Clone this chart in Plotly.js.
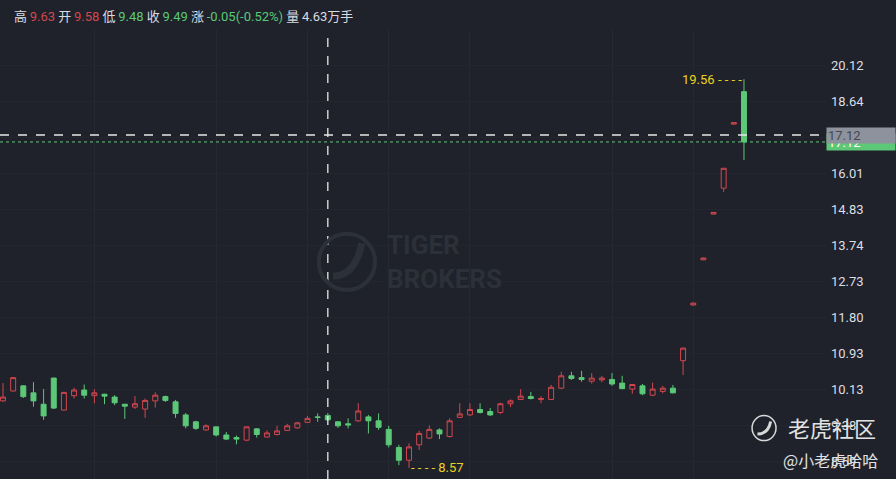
<!DOCTYPE html>
<html><head><meta charset="utf-8">
<script src="https://cdn.plot.ly/plotly-3.0.1.min.js"></script>
<style>html,body{margin:0;padding:0;background:#1f222a;}#chart{width:896px;height:479px;}</style>
</head><body><div id="chart"></div>
<script>
// ---- data ----
const openP = [9.88,10.09,10.20,10.05,9.81,10.37,9.69,9.99,10.11,9.99,
  10.02,9.96,9.81,9.75,9.71,9.88,9.97,9.86,9.59,9.45,
  9.29,9.35,9.19,9.14,9.09,9.31,9.15,9.20,9.28,9.33,
  9.44,9.55,9.58,9.45,9.41,9.47,9.55,9.47,9.30,8.95,
  8.71,9.00,9.13,9.29,9.16,9.54,9.59,9.70,9.66,9.64,
  9.82,9.91,9.97,9.91,9.91,10.15,10.42,10.38,10.30,10.33,
  10.34,10.26,10.13,10.20,10.00,10.08,10.15,10.76,12.11,13.33,
  14.69,15.52,17.78,19.05];
const highP = [10.26,10.39,10.21,10.28,10.13,10.38,10.07,10.16,10.23,10.13,
  10.03,10.00,9.81,9.98,9.93,10.06,9.99,9.90,9.63,9.47,
  9.40,9.35,9.25,9.18,9.36,9.32,9.28,9.37,9.41,9.45,
  9.57,9.62,9.63,9.46,9.52,9.83,9.59,9.62,9.37,9.00,
  9.03,9.27,9.38,9.32,9.52,9.83,9.83,9.83,9.73,9.84,
  9.91,10.13,10.07,9.98,10.22,10.51,10.51,10.53,10.48,10.42,
  10.48,10.42,10.24,10.24,10.27,10.20,10.22,11.07,12.17,13.39,
  14.75,16.19,17.85,19.56];
const lowP = [9.86,10.08,9.94,9.76,9.49,9.71,9.68,9.93,9.93,9.83,
  9.81,9.79,9.51,9.71,9.53,9.74,9.86,9.53,9.32,9.29,
  9.27,9.16,9.09,9.01,9.07,9.14,9.14,9.18,9.27,9.31,
  9.44,9.45,9.48,9.33,9.32,9.45,9.22,9.29,8.95,8.62,
  8.57,8.90,9.11,9.11,9.14,9.54,9.57,9.62,9.57,9.61,
  9.75,9.90,9.91,9.83,9.90,10.13,10.33,10.29,10.25,10.28,
  10.20,10.13,10.03,10.00,9.98,10.04,10.04,10.44,12.10,13.32,
  14.68,15.40,17.77,16.48];
const closeP = [9.96,10.38,9.97,9.88,9.57,9.73,10.06,10.11,10.00,10.05,
  9.98,9.84,9.77,9.82,9.89,10.00,9.89,9.62,9.37,9.32,
  9.37,9.19,9.11,9.11,9.35,9.20,9.23,9.27,9.37,9.43,
  9.52,9.54,9.49,9.37,9.39,9.67,9.47,9.34,9.00,8.71,
  8.96,9.22,9.30,9.21,9.47,9.61,9.70,9.64,9.59,9.82,
  9.88,9.98,9.93,9.93,10.17,10.42,10.36,10.34,10.37,10.37,
  10.24,10.14,10.23,10.03,10.13,10.15,10.05,11.05,12.16,13.38,
  14.74,16.19,17.84,17.12];
const yTickVals = [8.69,9.38,10.13,10.93,11.80,12.73,13.74,14.83,16.01,17.28,18.64,20.12];
const yTickText = ['8.69','9.38','10.13','10.93','11.80','12.73','13.74','14.83','16.01','17.28','18.64','20.12'];
const crossIndex = 32;        // candle under crosshair
const crossPrice = 17.375;    // crosshair horizontal level
const crossLabel = '17.12';
const volumeText = '4.63万手';

// ---- derived ----
const xs = openP.map((_, i) => i);
const n = xs.length;
const hiIdx = highP.indexOf(Math.max(...highP));
const loIdx = lowP.indexOf(Math.min(...lowP));
const last = closeP[n - 1];
const RED = '#d2474f', GREEN = '#5cc878', YEL = '#ecd21e', BG = '#1f222a';
const c = crossIndex;
const chg = closeP[c] - closeP[c - 1];
const pct = chg / closeP[c - 1] * 100;
const col = v => v >= closeP[c - 1] ? RED : GREEN;
const TS = '\u2009';
const lab = t => `<span style="color:#d9dbe0">${t}</span>${TS}`;
const header = lab('高') + `<span style="color:${col(highP[c])}">${highP[c].toFixed(2)}</span> ` +
  lab('开') + `<span style="color:${col(openP[c])}">${openP[c].toFixed(2)}</span> ` +
  lab('低') + `<span style="color:${col(lowP[c])}">${lowP[c].toFixed(2)}</span> ` +
  lab('收') + `<span style="color:${col(closeP[c])}">${closeP[c].toFixed(2)}</span> ` +
  lab('涨') + `<span style="color:${chg >= 0 ? RED : GREEN}">${chg.toFixed(2)}(${pct.toFixed(2)}%)</span> ` +
  lab('量') + `<span style="color:#d9dbe0">${volumeText}</span>`;

const trace = {
  type: 'candlestick', x: xs, open: openP, high: highP, low: lowP, close: closeP,
  increasing: {line: {color: RED, width: 1}, fillcolor: 'rgba(0,0,0,0)'},
  decreasing: {line: {color: GREEN, width: 1}, fillcolor: GREEN},
  whiskerwidth: 0, hoverinfo: 'skip'
};

const FONT = 'Roboto, "Noto Sans CJK SC", sans-serif';
const layout = {
  width: 896, height: 479,
  paper_bgcolor: BG, plot_bgcolor: BG,
  margin: {l: 0, r: 70, t: 30, b: 0},
  showlegend: false,
  font: {family: FONT, color: '#d9dbe0'},
  xaxis: {range: [-0.296, 81.08], showticklabels: false, showgrid: true, gridcolor: '#262932',
    tickvals: [9, 21, 30, 38, 46, 60, 68], zeroline: false, showline: false,
    rangeslider: {visible: false}, fixedrange: true},
  yaxis: {type: 'log', side: 'right', range: [Math.log10(8.370), Math.log10(21.714)],
    tickvals: yTickVals, ticktext: yTickText, showgrid: true, gridcolor: '#23262e',
    zeroline: false, showline: false, ticks: '', ticklabelstandoff: 4,
    tickfont: {size: 13, color: '#dcdee3', family: FONT}, fixedrange: true},
  shapes: [
    {type: 'line', xref: 'x', yref: 'paper', x0: c, x1: c, y0: 0, y1: 1,
      line: {color: '#e8e8e8', width: 1.3, dash: 'dash'}},
    {type: 'line', xref: 'paper', yref: 'y', x0: 0, x1: 1, y0: crossPrice, y1: crossPrice,
      line: {color: '#e8e8e8', width: 1.3, dash: 'dash'}},
    {type: 'line', xref: 'paper', yref: 'y', x0: 0, x1: 1, y0: last, y1: last,
      line: {color: GREEN, width: 1, dash: 'dot'}},
    // TIGER BROKERS watermark logo
    {type: 'circle', xref: 'paper', yref: 'paper', x0: 0.386, x1: 0.454, y0: 0.421, y1: 0.546,
      line: {color: '#2c3039', width: 4}},
    {type: 'path', xref: 'paper', yref: 'paper',
      path: 'M 0.403 0.452 Q 0.430 0.452 0.438 0.525', line: {color: '#2c3039', width: 7}},
    // community logo
    {type: 'circle', xref: 'paper', yref: 'paper', x0: 0.9105, x1: 0.9395, y0: 0.0855, y1: 0.1415,
      line: {color: '#d8d8d8', width: 1.5}},
    {type: 'path', xref: 'paper', yref: 'paper',
      path: 'M 0.917 0.100 Q 0.930 0.100 0.933 0.128', line: {color: '#d8d8d8', width: 3}}
  ],
  annotations: [
    {xref: 'paper', yref: 'paper', x: 0.0145, y: 1.0295, xanchor: 'left', yanchor: 'middle',
      text: header, showarrow: false, font: {size: 13, family: FONT}},
    {xref: 'x', yref: 'y', x: hiIdx, y: Math.log10(highP[hiIdx]), xanchor: 'right', yanchor: 'middle',
      text: highP[hiIdx].toFixed(2) + ' - - - -', showarrow: false, font: {size: 13, color: YEL, family: FONT}},
    {xref: 'x', yref: 'y', x: loIdx, y: Math.log10(lowP[loIdx]), xanchor: 'left', yanchor: 'middle',
      text: '- - - - ' + lowP[loIdx].toFixed(2), showarrow: false, font: {size: 13, color: YEL, family: FONT}},
    {xref: 'paper', yref: 'y', x: 1, y: Math.log10(last), xanchor: 'left', yanchor: 'middle',
      text: last.toFixed(2), showarrow: false, bgcolor: GREEN, width: 66, height: 14, align: 'left',
      font: {size: 13, color: '#ffffff', family: FONT}},
    {xref: 'paper', yref: 'y', x: 1, y: Math.log10(crossPrice), xanchor: 'left', yanchor: 'middle',
      text: crossLabel, showarrow: false, bgcolor: '#8e929d', width: 66, height: 13, align: 'left',
      font: {size: 13, color: '#454954', family: FONT}},
    {xref: 'paper', yref: 'paper', x: 0.466, y: 0.483, xanchor: 'left', yanchor: 'middle',
      text: '<b>TIGER<br>BROKERS</b>', showarrow: false, align: 'left',
      font: {size: 26, color: '#2c3039', family: FONT}},
    {xref: 'paper', yref: 'paper', x: 0.951, y: 0.115, xanchor: 'left', yanchor: 'middle',
      text: '老虎社区', showarrow: false, font: {size: 22, color: '#e2e2e2', family: '"Noto Sans CJK SC"'}},
    {xref: 'paper', yref: 'paper', x: 0.946, y: 0.042, xanchor: 'left', yanchor: 'middle',
      text: '@小老虎哈哈', showarrow: false, font: {size: 16, color: '#e2e2e2', family: '"Noto Sans CJK SC"'}}
  ]
};
Plotly.newPlot('chart', [trace], layout, {displayModeBar: false, staticPlot: true});
</script></body></html>
